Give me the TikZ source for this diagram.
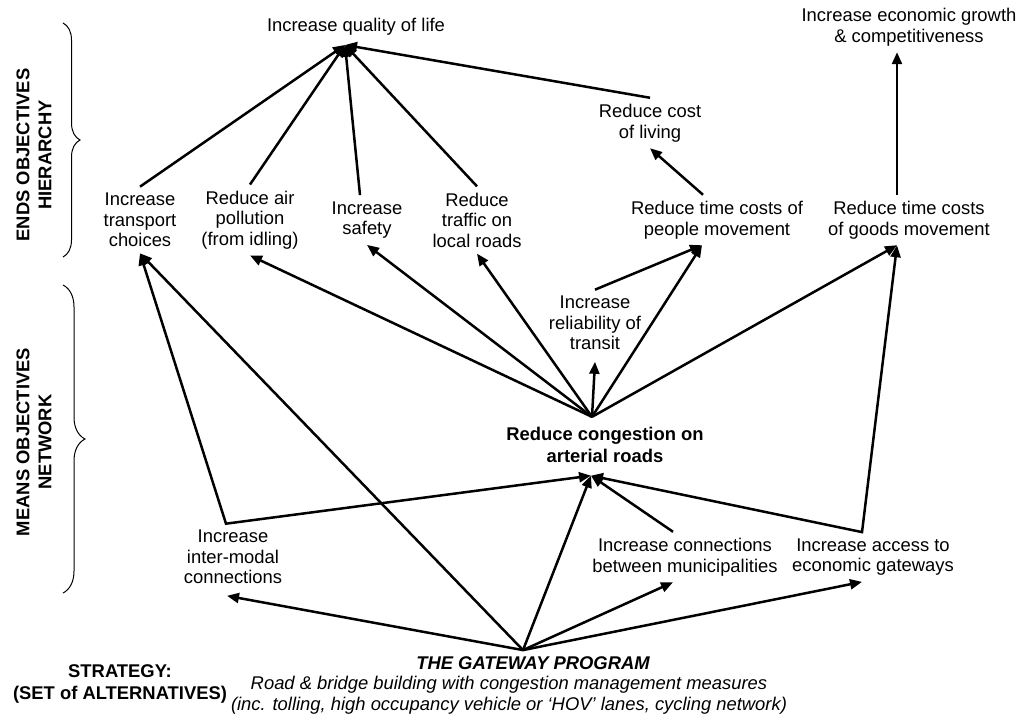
\documentclass[tikz,border=0pt]{standalone}
\usepackage{fontspec}
\setmainfont{Liberation Sans}
\usepackage{tikz}
\usetikzlibrary{positioning, arrows.meta, decorations.pathreplacing}
\tikzset{
	line width = 1.25pt,
	>={Triangle[length=6pt,width=5pt]},
	font = \fontsize{9.2}{10.25}\selectfont,
	objective/.style={
		align=center,
		inner sep=3pt
	},
	key objective/.style={
		objective,
		font=\fontsize{9.2}{11}\selectfont\bfseries
	},
	strategy/.style={
		objective,
		font=\fontsize{9.2}{10.25}\selectfont\bfseries\itshape
	},
	side label/.style={
		align=center,
		rotate=90,
		font=\fontsize{9.2}{11}\selectfont\bfseries
	},
	edge/.style={
		->,
		line width=1.25pt
	},
	section brace/.style={
		decorate,
		decoration={brace, amplitude=8.5pt},
		line width=.5pt
	}
}

\begin{document}
\begin{tikzpicture}[x=0.5pt, y=-0.5pt]
	\useasboundingbox (0,0) rectangle (1031,721);
\node[objective] (qol) at (356,27) {Increase quality of life};
\node[objective] (growth) at (909,27) {Increase economic growth\\\& competitiveness};
\node[objective] (cost) at (650,123) {Reduce cost\\of living};
\node[objective] (choice) at (140,220) {Increase\\transport\\choices};
\node[objective] (air) at (250,220) {Reduce air\\pollution\\(from idling)};
\node[objective] (safe) at (367,220) {Increase\\safety};
\node[objective] (local) at (477,220) {Reduce\\traffic on\\local roads};
\node[objective] (people) at (717,220) {Reduce time costs of\\people movement};
\node[objective] (goods) at (909,220) {Reduce time costs\\of goods movement};
\node[objective] (transit) at (595,323) {Increase\\reliability of\\transit};
\node[key objective] (cong) at (605,445) {Reduce congestion on\\arterial roads};
\node[objective] (inter) at (233,557) {Increase\\inter-modal\\connections};
\node[objective] (munic) at (685,557) {Increase connections\\between municipalities};
\node[objective] (access) at (873,557) {Increase access to\\economic gateways};
\node[strategy] (gw) at (533,663) {THE GATEWAY PROGRAM};
\node[objective, font=\fontsize{9.2}{10.25}\selectfont\itshape] (gwtext) at (509,695) {Road \& bridge building with congestion management measures\\(inc. tolling, high occupancy vehicle or `HOV' lanes, cycling network)};
\node[key objective] (strat) at (120,684) {STRATEGY:\\(SET of ALTERNATIVES)};
\node[side label] (ends) at (34,155) {ENDS OBJECTIVES\\HIERARCHY};
\node[side label] (means) at (34,442) {MEANS OBJECTIVES\\NETWORK};

\draw[section brace] (63,23) -- (63,257);
\draw[section brace, decoration={amplitude=11pt}] (63,285) -- (63,593);

\coordinate (qol in) at ([xshift=-5.5pt, yshift=-1.5pt]qol.south);
\coordinate (cong top) at ([xshift=-6.5pt, yshift=2pt]cong.north);
\coordinate (cong in) at ([xshift=-7pt, yshift=-3.25pt]cong.south);
\coordinate (gw out) at ([xshift=-5pt]gw.north);

\foreach \n in {choice, air, local}
	\draw[edge] (\n.north) -- (qol in);
\draw[edge] ([xshift=-3.5pt]safe.north) -- (qol in);
\draw[edge] (cost.north) -- (qol in);
\draw[edge] ([xshift=-7pt]people.north) -- (cost.south);
\draw[edge] ([xshift=-6pt]goods.north) -- ([xshift=-6pt]growth.south);

\foreach \n in {air, safe, local}
	\draw[edge] (cong top) -- (\n.south);
\draw[edge] (cong top) -- ([yshift=-2.75pt]transit.south);
\draw[edge] (cong top) -- ([xshift=-7.5pt]people.south);
\draw[edge] (transit.north) -- ([xshift=-7.5pt]people.south);
\draw[edge] (cong top) -- ([xshift=-6pt]goods.south);

\draw[edge, <->] (choice.south) -- ([xshift=-3.5pt]inter.north) -- (cong in);
\draw[edge, <->] ([xshift=-6pt]goods.south) -- ([xshift=-5.5pt]access.north) -- (cong in);
\draw[edge] ([xshift=-6pt]munic.north) -- (cong in);

\draw[edge] (gw out) -- (choice.south);
\draw[edge] (gw out) -- ([xshift=-3pt, yshift=-2.75pt]inter.south);
\draw[edge] (gw out) -- (cong in);
\draw[edge] (gw out) -- ([xshift=-6pt]munic.south);
\draw[edge] (gw out) -- ([xshift=-5.5pt]access.south);
	\end{tikzpicture}
\end{document}
